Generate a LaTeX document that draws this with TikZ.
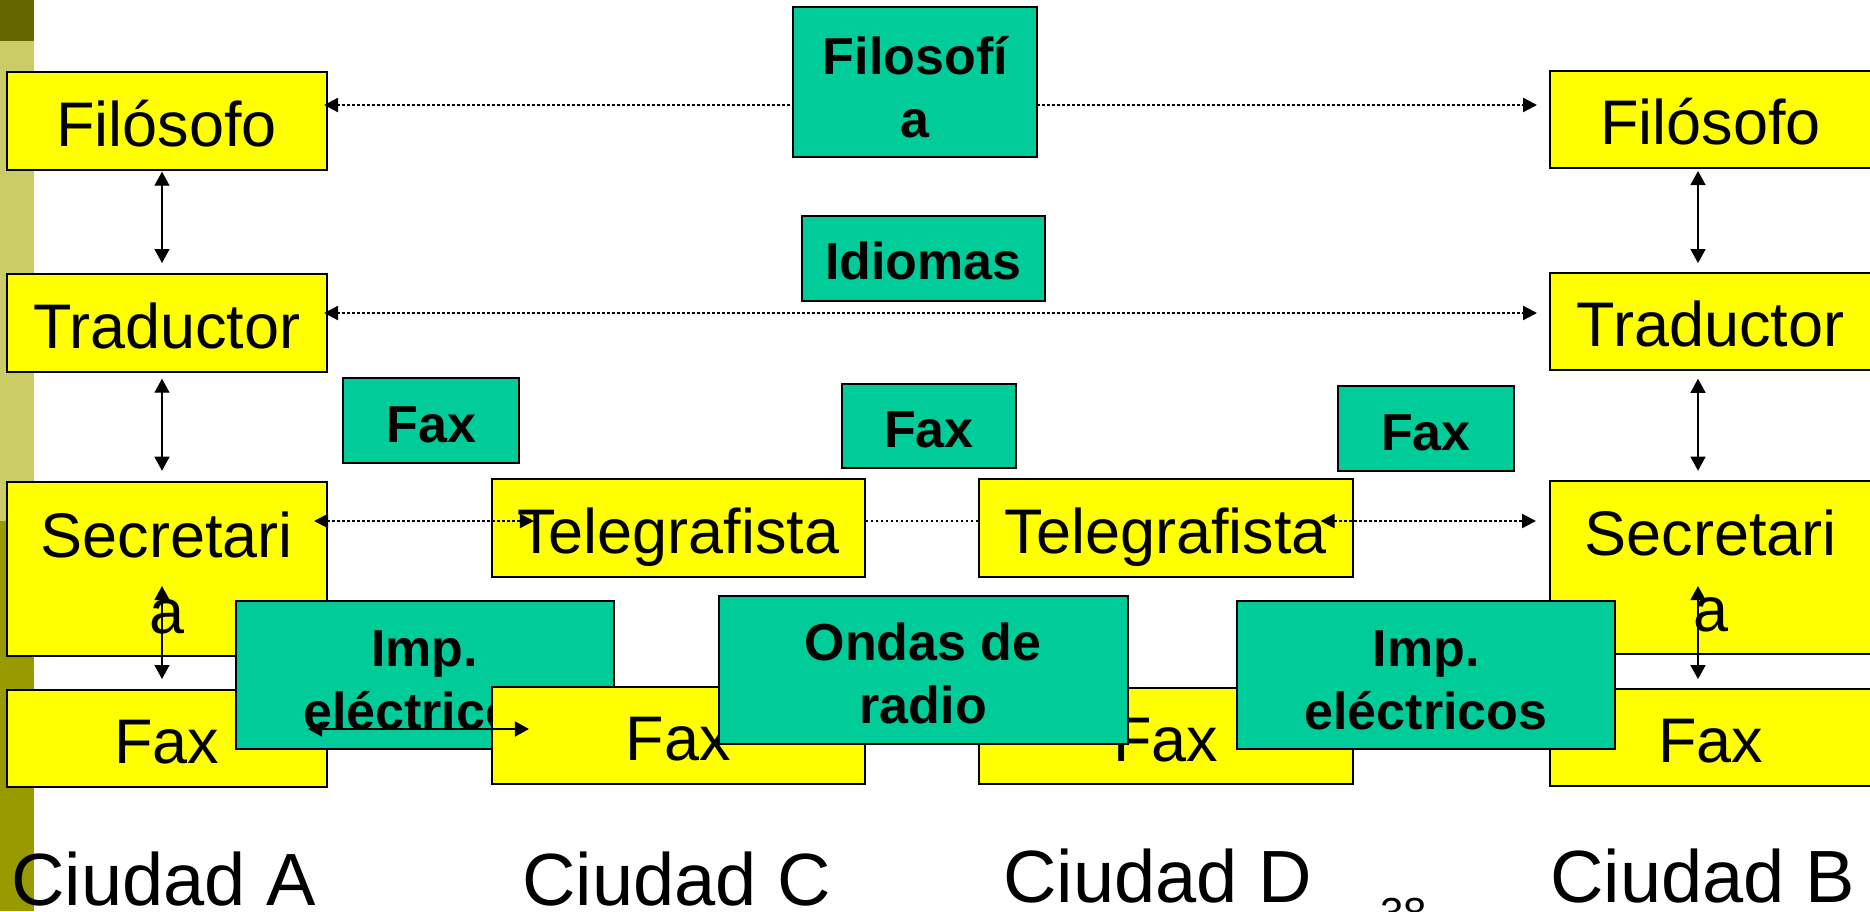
\documentclass[tikz,border=0pt]{standalone}
\usepackage{fontspec}
\setmainfont{Liberation Sans}
\usetikzlibrary{arrows.meta}
\definecolor{ppyellow}{RGB}{255,255,0}
\definecolor{ppteal}{RGB}{0,204,153}
\definecolor{stripedark}{RGB}{102,102,0}
\definecolor{stripelight}{RGB}{204,204,102}
\definecolor{stripemid}{RGB}{153,153,0}
\newcommand{\firststrut}[1]{\rule{0pt}{#1}}
\tikzset{
  ybox/.style={draw=black, line width=2pt, fill=ppyellow, inner sep=0pt, align=center,
    font=\fontsize{63}{76}\selectfont},
  ysingle/.style={ybox, text height=50pt, text depth=0pt},
  tbox/.style={draw=black, line width=2pt, fill=ppteal, inner sep=0pt, align=center,
    font=\bfseries\fontsize{52}{63}\selectfont},
  tsingle/.style={tbox, text height=43pt, text depth=0pt},
  solidarr/.style={line width=1.4pt, {Triangle[length=14pt,width=15pt]}-{Triangle[length=14pt,width=15pt]}},
  dotarr/.style={line width=2.2pt, dash pattern=on 2.5pt off 2.5pt, {Triangle[length=14pt,width=14pt]}-{Triangle[length=14pt,width=14pt]}},
  dotline/.style={line width=2.2pt, dash pattern=on 2.5pt off 2.5pt},
  city/.style={inner sep=0pt, anchor=base west, font=\fontsize{74}{88}\selectfont}
}
\begin{document}
\begin{tikzpicture}[x=1pt,y=-1pt]
\clip (0,0) rectangle (1870,911);
\fill[white] (0,0) rectangle (1870,911);
% left stripe
\fill[stripedark] (0,0) rectangle (34,41);
\fill[stripelight] (0,41) rectangle (34,521);
\fill[stripemid] (0,521) rectangle (34,911);

% left column (Ciudad A)
\node[ysingle, minimum width=320.5pt, minimum height=98pt] (fl) at (166.75,121) {Filósofo};
\node[ysingle, minimum width=320.5pt, minimum height=98pt] (tl) at (166.75,323) {Traductor};
% right column (Ciudad B)
\node[ysingle, minimum width=321pt, minimum height=97.6pt] (fr) at (1710.5,119.5) {Filósofo};
\node[ysingle, minimum width=321pt, minimum height=97.3pt] (tr) at (1710.5,321.4) {Traductor};

% dotted rows 1 and 2 (behind the central boxes)
\draw[dotarr, shorten <=-4pt, shorten >=12pt] ([yshift=16pt]fl.east) -- ([yshift=14.5pt]fr.west);
\draw[dotarr, shorten <=-4pt, shorten >=12pt] ([yshift=10pt]tl.east) -- ([yshift=8.4pt]tr.west);

\node[ybox, minimum width=320.5pt, minimum height=174pt] (sa) at (166.75,569) {\firststrut{53pt}Secretari\\a};
\node[ysingle, minimum width=320.5pt, minimum height=97pt] (fa) at (166.75,738.5) {Fax};
\node[ybox, minimum width=321pt, minimum height=173pt] (sb) at (1710.5,567.5) {\firststrut{53pt}Secretari\\a};
\node[ysingle, minimum width=321pt, minimum height=96.7pt] (fb) at (1710.5,737.7) {Fax};

% teal boxes of the upper part
\node[tbox, minimum width=244pt, minimum height=149.4pt] (filo) at (915.3,82) {\firststrut{48pt}Filosofí\\a};
\node[tsingle, minimum width=243.3pt, minimum height=84.5pt] (idi) at (923.4,258.3) {Idiomas};
\node[tsingle, minimum width=176pt, minimum height=84.4pt] (fx1) at (431.3,420.5) {Fax};
\node[tsingle, minimum width=174.5pt, minimum height=84pt] (fx2) at (928.8,426) {Fax};
\node[tsingle, minimum width=176pt, minimum height=85pt] (fx3) at (1426,428.5) {Fax};

% telegrafistas
\node[ysingle, minimum width=373.3pt, minimum height=98pt] (tgc) at (678.3,528) {Telegrafista};
\node[ysingle, minimum width=373.7pt, minimum height=98pt] (tgd) at (1165.8,528) {Telegrafista};

% lower layer
\node[tbox, minimum width=378pt, minimum height=148pt] (impl) at (424.5,675) {\firststrut{47pt}Imp.\\eléctricos};
\node[ysingle, minimum width=373.3pt, minimum height=97pt] (fxc) at (678.3,735.5) {Fax};
\node[ysingle, minimum width=373.7pt, minimum height=96.6pt] (fxd) at (1165.8,736) {Fax};
\node[tbox, minimum width=409pt, minimum height=148.3pt] (ondas) at (923.2,669.8) {\firststrut{45pt}Ondas de\\radio};
\node[tbox, minimum width=378pt, minimum height=148.3pt] (impr) at (1426,674.8) {\firststrut{47pt}Imp.\\eléctricos};

% dotted row 3
\draw[dotarr, shorten <=-14pt, shorten >=-43.3pt] ([yshift=48pt]sa.east) -- ([yshift=7pt]tgc.west);
\draw[dotline] ([yshift=7pt]tgc.east) -- ([yshift=7pt]tgd.west);
\draw[dotarr, shorten <=-33pt, shorten >=13pt] ([yshift=7pt]tgd.east) -- ([yshift=46.5pt]sb.west);

% vertical arrows, left
\draw[solidarr, shorten <=0.7pt, shorten >=10pt] ([xshift=-4.75pt]fl.south) -- ([xshift=-4.75pt]tl.north);
\draw[solidarr, shorten <=5.7pt, shorten >=10.3pt] ([xshift=-4.75pt]tl.south) -- ([xshift=-4.75pt]sa.north);
\draw[solidarr, shorten <=-71pt, shorten >=10pt] ([xshift=-4.75pt]sa.south) -- ([xshift=-4.75pt]fa.north);
% vertical arrows, right
\draw[solidarr, shorten <=1.7pt, shorten >=8.7pt] ([xshift=-12.5pt]fr.south) -- ([xshift=-12.5pt]tr.north);
\draw[solidarr, shorten <=7.7pt, shorten >=9.3pt] ([xshift=-12.5pt]tr.south) -- ([xshift=-12.5pt]sb.north);
\draw[solidarr, shorten <=-69pt, shorten >=9.3pt] ([xshift=-12.5pt]sb.south) -- ([xshift=-12.5pt]fb.north);
% horizontal Fax A -- Fax C
\draw[solidarr, shorten <=-20pt, shorten >=-38.3pt] ([yshift=9.5pt]fa.east) -- ([yshift=6.5pt]fxc.west);

% city labels
\node[city] (ca) at (11,905) {Ciudad A};
\node[city] (cc) at (522,905) {Ciudad C};
\node[city] (cd) at (1003,902) {Ciudad D};
\node[city] (cb) at (1550,902) {Ciudad B};
\node[inner sep=0pt, anchor=base west, font=\fontsize{42}{50}\selectfont] (num) at (1380,927) {38};
\end{tikzpicture}
\end{document}
